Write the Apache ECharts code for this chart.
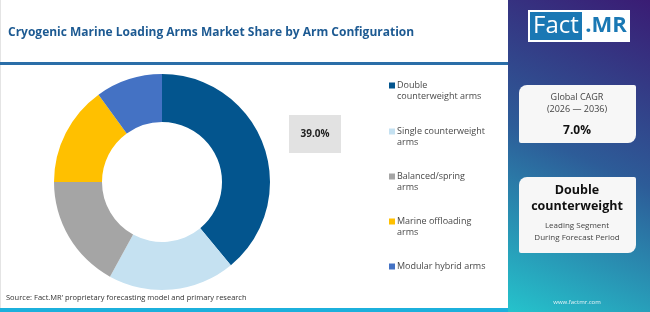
<!DOCTYPE html>
<html>
<head>
<meta charset="utf-8">
<script src="https://cdn.jsdelivr.net/npm/echarts@6/dist/echarts.min.js"></script>
<style>
  html, body { margin: 0; padding: 0; background: #fff; }
  #chart { width: 650px; height: 312px; }
</style>
</head>
<body>
<div id="chart"></div>
<script>
// ── Data ──────────────────────────────────────────────────────────────────────
const segments = [
  'Double counterweight arms',
  'Single counterweight arms',
  'Balanced/spring arms',
  'Marine offloading arms',
  'Modular hybrid arms',
];
const legendLabels = [
  'Double\ncounterweight arms',
  'Single counterweight\narms',
  'Balanced/spring\narms',
  'Marine offloading\narms',
  'Modular hybrid arms',
];
const shares = [39.0, 19.0, 17.0, 15.0, 10.0];
const colors = ['#03558e', '#c5e1f1', '#a5a5a5', '#ffc000', '#4472c4'];

const title = 'Cryogenic Marine Loading Arms Market Share by Arm Configuration';
const cagrLabel = ['Global CAGR', '(2026 \u2014 2036)'];
const cagrValue = '7.0%';
const leadSegment = ['Double', 'counterweight'];
const leadNote = ['Leading Segment', 'During Forecast Period'];
const source = 'Source: Fact.MR\u2019 proprietary forecasting model and primary research';

// ── Chart ─────────────────────────────────────────────────────────────────────
const chart = echarts.init(document.getElementById('chart'), null, { renderer: 'canvas' });
const FONT = '"Open Sans", "DejaVu Sans", sans-serif';

const labelMap = {};
segments.forEach((s, i) => { labelMap[s] = legendLabels[i]; });

const panelX = 508;
const legendTops = [80, 126, 171, 216, 261];

// one legend per entry; for two-line labels a tall icon box with the square
// at its top keeps the swatch level with the first text line
const legends = segments.map((s, i) => {
  const twoLines = legendLabels[i].includes('\n');
  return {
    orient: 'vertical',
    left: 389,
    top: legendTops[i],
    padding: 0,
    itemWidth: 6,
    itemHeight: twoLines ? 17 : 6,
    icon: twoLines ? 'path://M0,0H6V6H0ZM0,17H0.01' : 'rect',
    data: [s],
    formatter: n => labelMap[n],
    textStyle: {
      fontFamily: FONT,
      fontSize: 9,
      color: '#484848',
      lineHeight: 11,
      padding: [0, 0, 0, -3],
    },
  };
});

chart.setOption({
  backgroundColor: '#ffffff',
  animation: false,
  color: colors,
  legend: legends,
  graphic: [
    // left border + rules
    { type: 'rect', shape: { x: 0, y: 0, width: 1, height: 312 }, style: { fill: '#e4e4e4' } },
    { type: 'rect', shape: { x: 0, y: 62, width: panelX, height: 3 }, style: { fill: '#2a6ea8' } },
    { type: 'rect', shape: { x: 0, y: 308, width: panelX, height: 4 }, style: { fill: '#1cb0dc' } },
    {
      type: 'text', left: 8, top: 27,
      style: { text: title, font: `bold 12px ${FONT}`, fill: '#1d5a92' },
    },
    {
      type: 'text', left: 6, top: 294,
      style: { text: source, font: `7.5px ${FONT}`, fill: '#333' },
    },
    // value box
    { type: 'rect', shape: { x: 289, y: 115, width: 52, height: 38 }, style: { fill: '#e2e2e2' } },
    {
      type: 'text', x: 315, y: 134,
      style: { text: shares[0].toFixed(1) + '%', font: `bold 10px ${FONT}`, fill: '#222', align: 'center', verticalAlign: 'middle' },
    },
    // right panel
    {
      type: 'rect', shape: { x: panelX, y: 0, width: 650 - panelX, height: 312 },
      style: {
        fill: new echarts.graphic.LinearGradient(1, 0, 0, 1, [
          { offset: 0, color: '#3a1c74' },
          { offset: 0.5, color: '#2d5c98' },
          { offset: 1, color: '#25c3cc' },
        ]),
      },
    },
    // logo
    { type: 'rect', shape: { x: 528, y: 10, width: 102, height: 32 }, style: { fill: '#ffffff' } },
    { type: 'rect', shape: { x: 530, y: 12, width: 52, height: 28 }, style: { fill: '#1a78b4' } },
    {
      type: 'text', x: 556, y: 26,
      style: { text: 'Fact', font: `24px ${FONT}`, fill: '#ffffff', align: 'center', verticalAlign: 'middle' },
    },
    {
      type: 'text', x: 606, y: 26,
      style: { text: '.MR', font: `bold 22px ${FONT}`, fill: '#1a78b4', align: 'center', verticalAlign: 'middle' },
    },
    // CAGR card
    {
      type: 'rect', shape: { x: 519, y: 85, width: 117, height: 58, r: [8, 2, 8, 2] },
      style: { fill: '#f7f7f7' },
    },
    {
      type: 'text', x: 577, y: 103,
      style: { text: cagrLabel.join('\n'), font: `9px ${FONT}`, lineHeight: 12, fill: '#444', align: 'center', verticalAlign: 'middle' },
    },
    {
      type: 'text', x: 577, y: 131,
      style: { text: cagrValue, font: `bold 12px ${FONT}`, fill: '#111', align: 'center', verticalAlign: 'middle' },
    },
    // leading segment card
    {
      type: 'rect', shape: { x: 519, y: 177, width: 117, height: 76, r: [8, 2, 8, 2] },
      style: { fill: '#f7f7f7' },
    },
    {
      type: 'text', x: 577, y: 198,
      style: { text: leadSegment.join('\n'), font: `bold 12.5px ${FONT}`, lineHeight: 16, fill: '#111', align: 'center', verticalAlign: 'middle' },
    },
    {
      type: 'text', x: 577, y: 232,
      style: { text: leadNote.join('\n'), font: `8px ${FONT}`, lineHeight: 12, fill: '#444', align: 'center', verticalAlign: 'middle' },
    },
    {
      type: 'text', x: 577, y: 302,
      style: { text: 'www.factmr.com', font: `6px ${FONT}`, fill: '#e8f4f8', align: 'center', verticalAlign: 'middle' },
    },
  ],
  series: [{
    type: 'pie',
    center: [162, 182],
    radius: [60, 108],
    startAngle: 90,
    clockwise: true,
    label: { show: false },
    labelLine: { show: false },
    itemStyle: { borderWidth: 0 },
    emphasis: { disabled: true },
    data: segments.map((s, i) => ({ name: s, value: shares[i] })),
  }],
});
</script>
</body>
</html>
